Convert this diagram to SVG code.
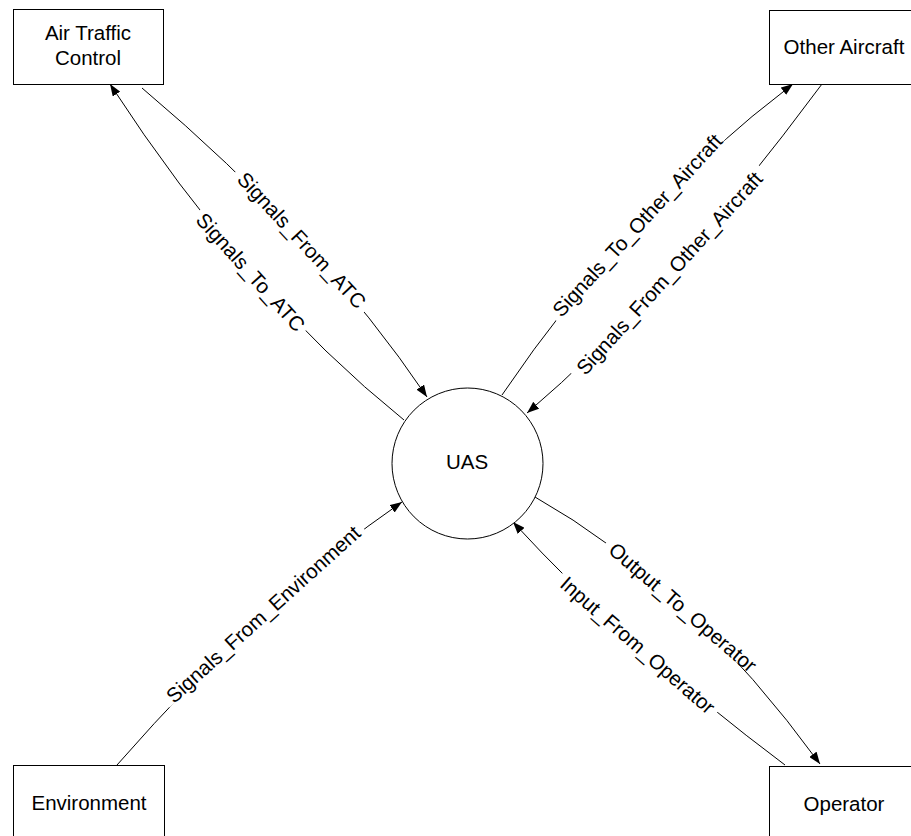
<svg xmlns="http://www.w3.org/2000/svg" width="911" height="836" viewBox="0 0 911 836">
  <style>
    .box { fill: #ffffff; stroke: #000000; stroke-width: 1; }
    .node-text { font-family: "Liberation Sans", Arial, sans-serif; font-size: 20.5px; fill: #000000; text-anchor: middle; }
    .flow { fill: none; stroke: #000000; stroke-width: 1; marker-end: url(#arrow); }
    .gap { fill: #ffffff; stroke: none; }
    .flow-label { font-family: "Liberation Sans", Arial, sans-serif; font-size: 20.5px; fill: #000000; text-anchor: middle; dominant-baseline: central; }
  </style>
  <defs>
    <marker id="arrow" markerUnits="userSpaceOnUse" markerWidth="12" markerHeight="9" refX="12" refY="4.5" orient="auto">
      <path d="M0,0 L12,4.5 L0,9 Z" fill="#000000"/>
    </marker>
  </defs>

  <rect width="911" height="836" fill="#ffffff"/>

  <!-- data flows -->
  <g id="connectors">
    <path class="flow" d="M404,420 Q245,292 110,84"/>
    <path class="flow" d="M142,88 Q319.5,237.5 427,397"/>
    <path class="flow" d="M502,395 Q626.5,210.5 793,84"/>
    <path class="flow" d="M822,84 Q663.5,297.5 527,413"/>
    <path class="flow" d="M117,765 Q266.5,594.5 402,502"/>
    <path class="flow" d="M535,497 Q688.5,583.5 820,764"/>
    <path class="flow" d="M785,765 Q627,646.5 513,522"/>

    <g transform="translate(251,272) rotate(48)">
      <rect class="gap" x="-80" y="-7" width="160" height="14"/>
      <text class="flow-label" x="0" y="0">Signals_To_ATC</text>
    </g>
    <g transform="translate(302,240) rotate(47)">
      <rect class="gap" x="-95" y="-7" width="190" height="14"/>
      <text class="flow-label" x="0" y="0">Signals_From_ATC</text>
    </g>
    <g transform="translate(637,225) rotate(-47.4)">
      <rect class="gap" x="-125" y="-7" width="250" height="14"/>
      <text class="flow-label" x="0" y="0">Signals_To_Other_Aircraft</text>
    </g>
    <g transform="translate(669,273) rotate(-47.8)">
      <rect class="gap" x="-140" y="-7" width="280" height="14"/>
      <text class="flow-label" x="0" y="0">Signals_From_Other_Aircraft</text>
    </g>
    <g transform="translate(263,614) rotate(-42)">
      <rect class="gap" x="-132" y="-7" width="264" height="14"/>
      <text class="flow-label" x="0" y="0">Signals_From_Environment</text>
    </g>
    <g transform="translate(683,607) rotate(40.6)">
      <rect class="gap" x="-100" y="-7" width="200" height="14"/>
      <text class="flow-label" x="0" y="0">Output_To_Operator</text>
    </g>
    <g transform="translate(638,645) rotate(41)">
      <rect class="gap" x="-104" y="-7" width="208" height="14"/>
      <text class="flow-label" x="0" y="0">Input_From_Operator</text>
    </g>
  </g>

  <!-- process -->
  <g id="uas">
    <circle class="box" cx="467.5" cy="463.5" r="75.5"/>
    <text class="node-text" x="467" y="469">UAS</text>
  </g>

  <!-- external entities -->
  <g id="air-traffic-control">
    <rect class="box" x="13.5" y="9.5" width="150" height="75"/>
    <text class="node-text" x="88" y="40">Air Traffic</text>
    <text class="node-text" x="88" y="65">Control</text>
  </g>
  <g id="other-aircraft">
    <rect class="box" x="769.5" y="10.5" width="150" height="74"/>
    <text class="node-text" x="844" y="54">Other Aircraft</text>
  </g>
  <g id="environment">
    <rect class="box" x="13.5" y="765.5" width="151" height="75"/>
    <text class="node-text" x="89" y="810">Environment</text>
  </g>
  <g id="operator">
    <rect class="box" x="769.5" y="766.5" width="150" height="75"/>
    <text class="node-text" x="844" y="811">Operator</text>
  </g>
</svg>
